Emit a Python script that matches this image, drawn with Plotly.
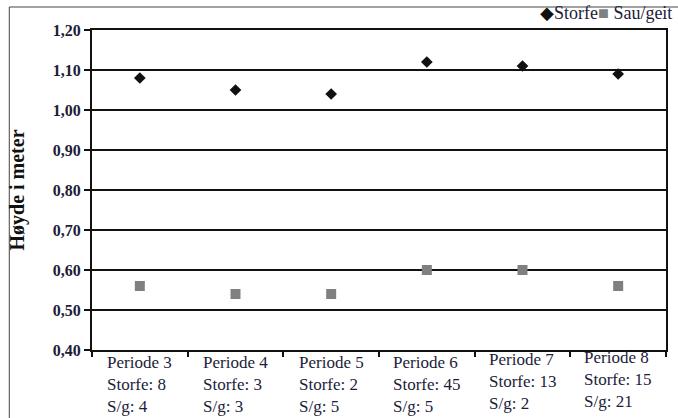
import plotly.graph_objects as go

# Mean height (m) per period for cattle and sheep/goat
perioder = ["Periode 3", "Periode 4", "Periode 5", "Periode 6", "Periode 7", "Periode 8"]
antall_storfe = [8, 3, 2, 45, 13, 15]
antall_sg = [4, 3, 5, 5, 2, 21]
storfe = [1.08, 1.05, 1.04, 1.12, 1.11, 1.09]
sau_geit = [0.56, 0.54, 0.54, 0.60, 0.60, 0.56]
y_ticks = [0.40, 0.50, 0.60, 0.70, 0.80, 0.90, 1.00, 1.10, 1.20]

SERIF = "Liberation Serif, Times New Roman, serif"
TXT = "#1c1c3a"

fig = go.Figure()
fig.add_trace(go.Scatter(
    x=perioder, y=storfe, mode="markers", name="Storfe",
    marker=dict(symbol="diamond", size=9, color="#111111"),
))
fig.add_trace(go.Scatter(
    x=perioder, y=sau_geit, mode="markers", name="Sau/geit",
    marker=dict(symbol="square", size=10, color="#808080"),
))

# category labels below the axis: period, cattle count, sheep/goat count
label_shift = [0, 0, 0, 0, 3, 5]
for p, s, g, dy in zip(perioder, antall_storfe, antall_sg, label_shift):
    fig.add_annotation(
        x=p, y=0, xref="x", yref="paper", yanchor="top", yshift=-1 + dy,
        text=f"{p}<br>Storfe: {s}<br>S/g: {g}", showarrow=False, align="left",
        font=dict(family=SERIF, size=17, color=TXT),
    )

# legend line at the top right
fig.add_annotation(
    x=1.0, y=1.0, xref="paper", yref="paper", xanchor="right", yanchor="bottom",
    xshift=8, yshift=5, showarrow=False,
    text="<span style='color:#111'>◆</span>Storfe<span style='color:#808080'>■</span> Sau/geit",
    font=dict(family=SERIF, size=18, color=TXT),
)

# outer frame (left and top edges)
fig.add_shape(type="line", xref="paper", yref="paper",
              x0=(9 - 92) / 576, x1=(9 - 92) / 576, y0=(350 - 430) / 320, y1=(350 - 7) / 320,
              line=dict(color="#444444", width=1))
fig.add_shape(type="line", xref="paper", yref="paper",
              x0=(9 - 92) / 576, x1=(690 - 92) / 576, y0=(350 - 7) / 320, y1=(350 - 7) / 320,
              line=dict(color="#444444", width=1))

fig.update_layout(
    width=678, height=418,
    margin=dict(l=92, r=10, t=30, b=68),
    paper_bgcolor="white", plot_bgcolor="white",
    showlegend=False,
    separators=", ",
    font=dict(family=SERIF, color=TXT),
)
fig.update_xaxes(
    type="category", categoryarray=perioder, range=[-0.5, 5.5],
    showticklabels=False, tickson="boundaries",
    ticks="outside", ticklen=5, tickwidth=1.5, tickcolor="#111",
    showline=True, linecolor="#111", linewidth=2, mirror=True,
    showgrid=False, zeroline=False,
)
fig.update_yaxes(
    range=[0.40, 1.20], tickvals=y_ticks, tickformat=".2f",
    ticks="outside", ticklen=6, tickwidth=1.5, tickcolor="#111",
    tickfont=dict(family=SERIF, size=16, color=TXT, weight="bold"),
    showline=True, linecolor="#111", linewidth=2, mirror=True,
    showgrid=True, gridcolor="#111", gridwidth=1.6, zeroline=False,
    title=dict(text="<b>Høyde i meter</b>", standoff=23,
               font=dict(family=SERIF, size=20, color="#111")),
)

fig.write_html("out.html")
